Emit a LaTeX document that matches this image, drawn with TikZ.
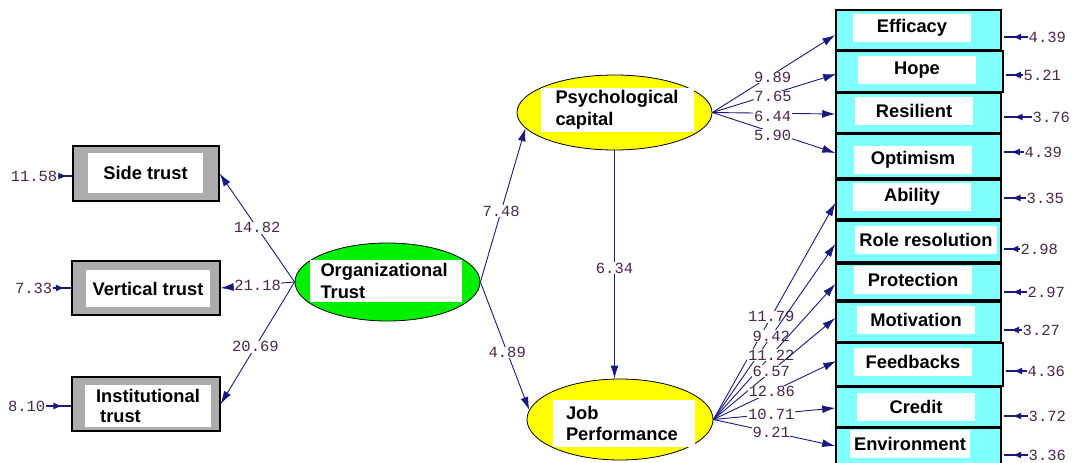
\documentclass[tikz,border=0pt]{standalone}
\usepackage{fontspec}
\setmainfont{Liberation Sans}
\newfontfamily\monof{Liberation Mono}
\usetikzlibrary{arrows.meta,shapes.geometric,calc,decorations.markings}
\definecolor{navy}{RGB}{24,24,128}
\definecolor{numcol}{RGB}{72,40,72}
\definecolor{boxgray}{RGB}{172,172,172}
\definecolor{cyanbox}{RGB}{128,255,255}
\definecolor{lvgreen}{RGB}{0,240,0}
\definecolor{lvyellow}{RGB}{255,255,0}
\begin{document}
\begin{tikzpicture}[x=1pt,y=-1pt,
  lab/.style={font=\fontsize{18.3}{21.5}\selectfont\bfseries, text=black},
  gbox/.style={draw=black, line width=1.3pt, fill=boxgray, rectangle, inner sep=0pt},
  rbox/.style={draw=black, line width=1.5pt, fill=cyanbox, rectangle, inner sep=0pt, minimum width=165pt},
  patch/.style={lab, fill=white, rectangle, inner sep=2pt},
  rpatch/.style={patch, minimum width=118pt, minimum height=28pt, inner xsep=4pt},
  lv/.style={ellipse, draw=black, line width=0.8pt, inner sep=0pt},
  arr/.style={draw=navy, line width=0.9pt, -{Latex[length=13pt,width=8pt]}},
  lbl/.style={font=\monof\fontsize{15.5}{16}\selectfont, text=numcol, fill=white, inner sep=0.6pt},
  enum/.style={font=\monof\fontsize{15.5}{16}\selectfont, text=numcol, inner sep=0.5pt},
  errarr/.style={draw=navy, line width=1.6pt, postaction={decorate},
    decoration={markings, mark=at position 0.65 with {\arrow{Latex[length=9pt,width=7pt]}}}}
]
\useasboundingbox (0,0) rectangle (1072,463);

% ---------- left observed variables ----------
\node[gbox, minimum width=146pt, minimum height=55pt] (bSide) at (146,173.5) {};
\node[patch, minimum width=115pt, minimum height=40pt] (tSide) at (145.5,173) {Side trust};
\node[gbox, minimum width=148pt, minimum height=54pt] (bVert) at (146,288) {};
\node[patch, minimum width=124pt, minimum height=37pt] (tVert) at (148,288.5) {Vertical trust};
\node[gbox, minimum width=148pt, minimum height=54pt] (bInst) at (146,404) {};
\node[patch, minimum width=126pt, minimum height=42pt, align=left] (tInst) at (148,406) {Institutional\\[-2pt]\hspace*{4pt}trust};

% ---------- latent variables ----------
\node[lv, fill=lvgreen, minimum width=185pt, minimum height=78pt] (OT) at (387.5,282) {};
\node[patch, text width=131pt, align=left, inner xsep=10.5pt, minimum height=42pt] (tOT) at (386,281) {Organizational\\Trust};
\node[lv, fill=lvyellow, minimum width=195pt, minimum height=75pt] (PC) at (614.5,112.5) {};
\node[patch, text width=123pt, align=left, inner xsep=15pt, minimum height=44pt] (tPC) at (617,110) {Psychological\\capital};
\node[lv, fill=lvyellow, minimum width=186pt, minimum height=81pt] (JP) at (620,419.5) {};
\node[patch, text width=116pt, align=left, inner xsep=13pt, minimum height=47pt] (tJP) at (624,423.5) {Job\\Performance};

% ---------- right observed variables ----------
\node[rbox, minimum height=40pt] (bEff) at (918.5,30) {};
\node[rpatch] (tEff) at (912,28) {Efficacy};
\node[rbox, minimum height=41pt, minimum width=167pt] (bHope) at (919.5,71.5) {};
\node[rpatch] (tHope) at (917,70) {Hope};
\node[rbox, minimum height=40pt] (bRes) at (918.5,113) {};
\node[rpatch] (tRes) at (914,111) {Resilient};
\node[rbox, minimum height=44pt] (bOpt) at (918.5,156) {};
\node[rpatch] (tOpt) at (913,160) {Optimism};
\node[rbox, minimum height=39pt] (bAbi) at (918.5,199.5) {};
\node[rpatch] (tAbi) at (912,197) {Ability};
\node[rbox, minimum height=41pt] (bRole) at (918.5,241.5) {};
\node[rpatch] (tRole) at (926,240) {Role resolution};
\node[rbox, minimum height=36pt] (bProt) at (918.5,282) {};
\node[rpatch] (tProt) at (913,280) {Protection};
\node[rbox, minimum height=40pt] (bMot) at (918.5,322) {};
\node[rpatch] (tMot) at (916,320) {Motivation};
\node[rbox, minimum height=43pt, minimum width=167pt] (bFeed) at (919.5,364.5) {};
\node[rpatch] (tFeed) at (913,362) {Feedbacks};
\node[rbox, minimum height=40pt] (bCred) at (918.5,407) {};
\node[rpatch] (tCred) at (916,407) {Credit};
\node[rbox, minimum height=52pt] (bEnv) at (918.5,454) {};
\node[rpatch] (tEnv) at (910,444) {Environment};

% ---------- structural paths ----------
\draw[arr] (OT.west) -- node[lbl, pos=0.5] (l1) {14.82} (bSide.east);
\draw[arr] (OT.west) -- node[lbl, pos=0.5] (l2) {21.18} (bVert.east);
\draw[arr] (OT.west) -- node[lbl, pos=0.53] (l3) {20.69} (bInst.east);
\draw[arr] (OT.east) -- node[lbl, pos=0.46] (l4) {7.48} (PC.190);
\draw[arr] (OT.east) -- node[lbl, pos=0.55] (l5) {4.89} (JP.174);
\draw[arr] (PC.south) -- node[lbl, pos=0.515] (l6) {6.34} (PC.south |- JP.north);

% ---------- psychological capital indicators ----------
\draw[arr] (PC.east) -- node[lbl, pos=0.49, yshift=-3pt] (p1) {9.89} ($(bEff.west)+(0,5)$);
\draw[arr] (PC.east) -- node[lbl, pos=0.49, yshift=-3pt] (p2) {7.65} ($(bHope.west)+(1,2.5)$);
\draw[arr] (PC.east) -- node[lbl, pos=0.49, yshift=-3pt] (p3) {6.44} ($(bRes.west)+(0,1)$);
\draw[arr] (PC.east) -- node[lbl, pos=0.49, yshift=-3pt] (p4) {5.90} ($(bOpt.west)+(0,-3)$);

% ---------- job performance indicators ----------
\draw[arr] (JP.east) -- node[lbl, pos=0.475] (j1) {11.79} ($(bAbi.west)+(0,3.5)$);
\draw[arr] (JP.east) -- node[lbl, pos=0.475] (j2) {9.42} ($(bRole.west)+(0,2.5)$);
\draw[arr] (JP.east) -- node[lbl, pos=0.475] (j3) {11.22} ($(bProt.west)+(0,2)$);
\draw[arr] (JP.east) -- node[lbl, pos=0.475] (j4) {6.57} ($(bMot.west)+(0,-4)$);
\draw[arr] (JP.east) -- node[lbl, pos=0.475] (j5) {12.86} ($(bFeed.west)+(1,-3.5)$);
\draw[arr] (JP.east) -- node[lbl, pos=0.475] (j6) {10.71} ($(bCred.west)+(0,1)$);
\draw[arr] (JP.east) -- node[lbl, pos=0.475] (j7) {9.21} ($(bEnv.west)+(0,-8)$);

% ---------- error variances, left ----------
\node[enum, anchor=east] (eSide) at (58,176) {11.58};
\node[enum, anchor=east] (eVert) at (53,288) {7.33};
\node[enum, anchor=east] (eInst) at (46,406) {8.10};
\draw[errarr] (eSide.east) -- (eSide.east -| bSide.west);
\draw[errarr] (eVert.east) -- (eVert.east -| bVert.west);
\draw[errarr] (eInst.east) -- (eInst.east -| bInst.west);

% ---------- error variances, right ----------
\node[enum, anchor=west] (eEff) at (1028,37) {4.39};
\node[enum, anchor=west] (eHope) at (1023,75) {5.21};
\node[enum, anchor=west] (eRes) at (1032,117) {3.76};
\node[enum, anchor=west] (eOpt) at (1024,152) {4.39};
\node[enum, anchor=west] (eAbi) at (1026,198) {3.35};
\node[enum, anchor=west] (eRole) at (1020,249) {2.98};
\node[enum, anchor=west] (eProt) at (1027,292) {2.97};
\node[enum, anchor=west] (eMot) at (1022,330) {3.27};
\node[enum, anchor=west] (eFeed) at (1027,371) {4.36};
\node[enum, anchor=west] (eCred) at (1028,416) {3.72};
\node[enum, anchor=west] (eEnv) at (1028,455) {3.36};
\foreach \n/\b in {eEff/bEff, eHope/bHope, eRes/bRes, eOpt/bOpt, eAbi/bAbi, eRole/bRole,
                   eProt/bProt, eMot/bMot, eFeed/bFeed, eCred/bCred, eEnv/bEnv}
  \draw[errarr] (\n.west) -- ([xshift=2pt]\n.west -| \b.east);
\end{tikzpicture}
\end{document}
